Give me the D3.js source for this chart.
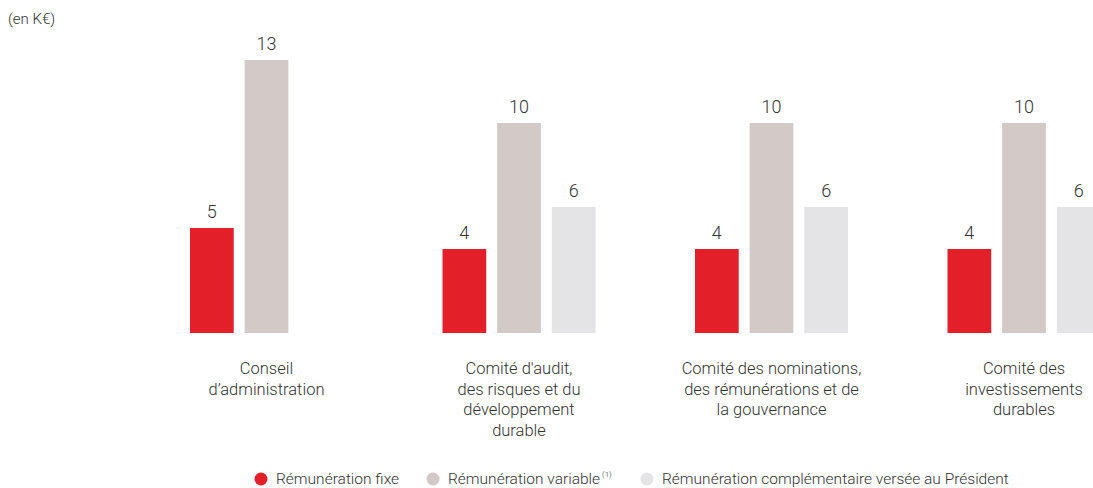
<!DOCTYPE html>
<html><head><meta charset="utf-8">
<script src="https://cdn.jsdelivr.net/npm/d3@7"></script>
<style>
body{margin:0;background:#fff;}
svg{display:block;font-family:Roboto, "Open Sans", sans-serif;font-weight:300;}
</style></head>
<body>
<svg id="c" width="1093" height="488"></svg>
<script>
const categories = [
  ["Conseil", "d’administration"],
  ["Comité d'audit,", "des risques et du", "développement", "durable"],
  ["Comité des nominations,", "des rémunérations et de", "la gouvernance"],
  ["Comité des", "investissements", "durables"]
];
const seriesNames = ["Rémunération fixe", "Rémunération variable", "Rémunération complémentaire versée au Président"];
const fixe = [5, 4, 4, 4];
const variable = [13, 10, 10, 10];
const complementaire = [null, 6, 6, 6];
const colors = ["#e31f29", "#d3cac7", "#e4e4e6"];

const svg = d3.select("#c");
const series = [fixe, variable, complementaire];
const catIdx = d3.range(categories.length);

const x0 = d3.scaleBand().domain(catIdx).range([190, 190 + 4 * 252.5]).paddingInner(0).paddingOuter(0);
const x1 = d3.scaleBand().domain([0,1,2]).range([0, 153]).paddingInner(0.2).paddingOuter(0);
const y = d3.scaleLinear().domain([0, 13]).range([333, 60]);

svg.append("text").attr("x", 8).attr("y", 24).attr("font-size", 15).attr("fill", "#333").text("(en K€)");

const g = svg.append("g");
catIdx.forEach(ci => {
  series.forEach((s, si) => {
    const v = s[ci];
    if (v == null) return;
    const bx = x0(ci) + x1(si);
    g.append("rect")
      .attr("x", bx).attr("y", y(v))
      .attr("width", x1.bandwidth()).attr("height", y(0) - y(v))
      .attr("fill", colors[si]);
    g.append("text")
      .attr("x", bx + x1.bandwidth() / 2).attr("y", y(v) - 10)
      .attr("text-anchor", "middle").attr("font-size", 18).attr("fill", "#333")
      .text(v);
  });
  const cx = x0(ci) + 153 / 2;
  const t = g.append("text").attr("text-anchor", "middle").attr("font-size", 16.5).attr("fill", "#333");
  categories[ci].forEach((line, li) => {
    t.append("tspan").attr("x", cx).attr("y", 374 + li * 20.5).text(line);
  });
});

// legend
const legX = [261, 433, 647];
const leg = svg.append("g");
seriesNames.forEach((n, i) => {
  leg.append("circle").attr("cx", legX[i]).attr("cy", 479).attr("r", 6.5).attr("fill", colors[i]);
  const t = leg.append("text").attr("x", legX[i] + 15).attr("y", 484).attr("font-size", 15.5).attr("fill", "#333").text(n);
  if (i === 1) t.append("tspan").attr("font-size", 8).attr("dy", -7).attr("dx", 2).text("(1)");
});
</script>
</body></html>
